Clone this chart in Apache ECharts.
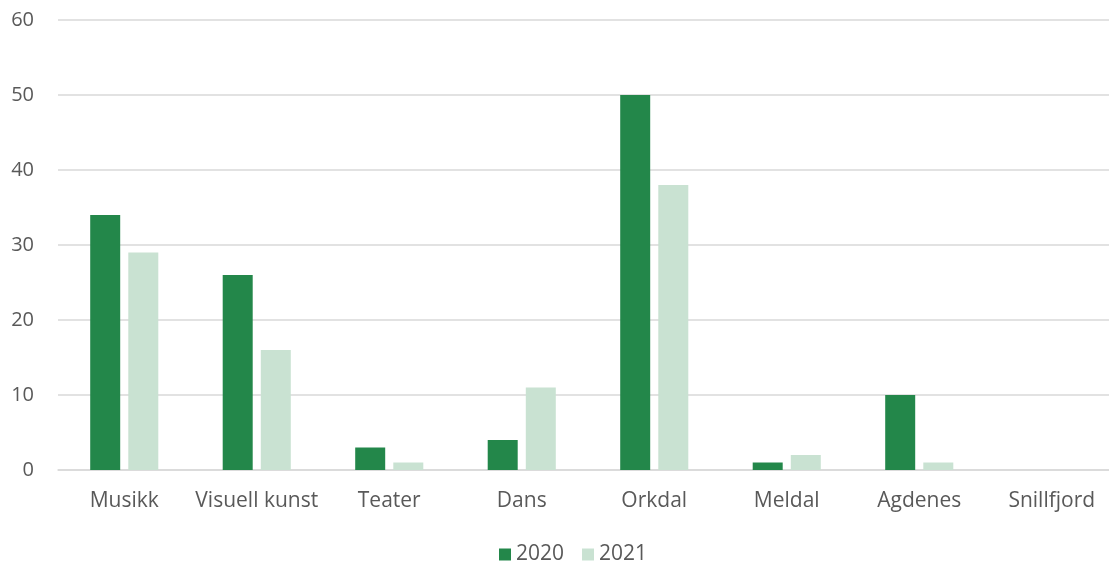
<!DOCTYPE html>
<html><head><meta charset="utf-8">
<script src="https://cdn.jsdelivr.net/npm/echarts@6/dist/echarts.min.js"></script>
<style>html,body{margin:0;padding:0;background:#fff}#c{width:1109px;height:564px}</style>
</head><body><div id="c"></div>
<script>
const categories = ["Musikk","Visuell kunst","Teater","Dans","Orkdal","Meldal","Agdenes","Snillfjord"];
const series2020 = [34,26,3,4,50,1,10,0];
const series2021 = [29,16,1,11,38,2,1,0];
const yTicks = {min:0, max:60, interval:10};
const chart = echarts.init(document.getElementById('c'), null, {renderer:'canvas'});
const font = "'Open Sans', 'Noto Sans', sans-serif";
chart.setOption({
  animation:false,
  textStyle:{fontFamily:font},
  grid:{left:58, top:20, width:1060, height:450, outerBoundsMode:'none', containLabel:false},
  legend:{
    data:['2020','2021'], top:539, left:494, itemWidth:12, itemHeight:12, itemGap:18,
    icon:'rect',
    textStyle:{fontSize:21, color:'#595959', fontFamily:font}
  },
  xAxis:{
    type:'category', data:categories,
    axisLine:{show:true, lineStyle:{color:'#D9D9D9', width:1.5}},
    axisTick:{show:false},
    axisLabel:{fontSize:21, color:'#595959', margin:21, fontFamily:font, interval:0}
  },
  yAxis:{
    type:'value', min:yTicks.min, max:yTicks.max, interval:yTicks.interval,
    axisLine:{show:false}, axisTick:{show:false},
    splitLine:{lineStyle:{color:'#D9D9D9', width:1.5}},
    axisLabel:{fontSize:20, color:'#595959', margin:24, fontFamily:font}
  },
  series:[
    {name:'2020', type:'bar', data:series2020, barWidth:30, barGap:'27%', itemStyle:{color:'#23874A'}},
    {name:'2021', type:'bar', data:series2021, barWidth:30, barGap:'27%', itemStyle:{color:'#C9E2D2'}}
  ]
});
</script></body></html>
